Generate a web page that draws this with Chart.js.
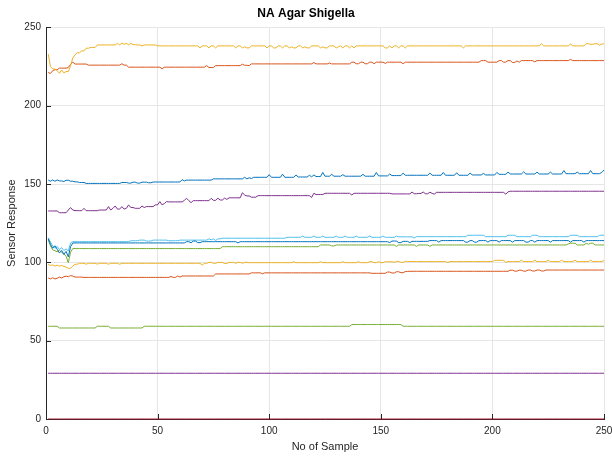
<!DOCTYPE html>
<html>
<head>
<meta charset="utf-8">
<title>NA Agar Shigella</title>
<script src="https://cdn.jsdelivr.net/npm/chart.js@4.4.1/dist/chart.umd.min.js"></script>
<style>
  html, body { margin: 0; padding: 0; background: #fff; }
  canvas { display: block; }
</style>
</head>
<body>
<canvas id="sensorChart" width="612" height="457"></canvas>
<script>
const sampleCount = 250;
const xTicks = [0, 50, 100, 150, 200, 250];
const yTicks = [0, 50, 100, 150, 200, 250];
// default MATLAB colour order, reused after the seventh line
const lineColors = ['#0072BD', '#D95319', '#EDB120', '#7E2F8E', '#77AC30', '#4DBEEE', '#A2142F'];

// Each sensor is a list of [sample, reading] change points;
// a reading holds until the next listed sample.
const sensor1 = [[1,152.6],[2,151.8],[3,152.6],[4,151.8],[5,152.6],[6,152],[8,151.6],[9,152.4],[11,151.8],[13,151.4],[15,151],[18,150.4],[34,151],[37,150.6],[39,151.2],[41,150.6],[43,151.2],[46,150.8],[48,151.3],[61,152.8],[62,152],[63,152.5],[75,153.3],[89,154.3],[90,153.3],[91,154],[92,153.5],[93,154.3],[100,156],[101,154.3],[106,156.3],[107,154.3],[112,155.8],[113,154.5],[118,155.6],[119,154.6],[120,155.8],[121,154.8],[124,157.4],[125,155],[128,156.2],[129,155],[133,156],[134,155],[142,156.2],[143,155],[148,157.4],[149,155.2],[154,156.4],[155,155.4],[160,157],[161,155.6],[172,157],[173,155.6],[178,157.4],[179,155.6],[184,157.2],[185,155.6],[190,157],[191,155.8],[196,156.8],[197,155.8],[202,157.4],[203,156.2],[207,157.6],[208,156.4],[214,157.8],[215,156.4],[220,157.6],[221,156.4],[226,157.6],[227,156.4],[232,158.6],[233,156.6],[238,157.6],[239,156.6],[244,158.6],[245,156.6],[249,157.4],[250,159]];
const sensor2 = [[1,221.2],[2,220.6],[3,222.4],[4,223],[6,224],[10,224.4],[11,226.4],[12,227.8],[13,226.6],[19,225.9],[34,226.8],[35,225.9],[37,224.6],[52,223.6],[53,224.6],[72,225.6],[73,224.4],[76,225.6],[88,226.5],[89,225.8],[91,225.6],[92,226.7],[120,227.6],[121,226.7],[127,227.3],[128,226.7],[137,227.8],[139,226.8],[141,227.8],[143,226.8],[145,227.8],[147,226.8],[148,227.8],[152,227],[153,227.8],[160,226.8],[161,227.8],[195,228.8],[198,227.8],[203,228.8],[205,227.8],[207,228.8],[209,227.6],[211,228.6],[212,227.8],[213,228.8],[219,228],[220,228.8],[235,229.6],[236,228.8]];
const sensor3 = [[1,233],[2,225],[3,223.5],[5,222.5],[6,220.7],[7,222.8],[8,221],[9,221.8],[11,225.5],[12,230.5],[13,232.5],[14,233.8],[16,235],[18,236.7],[20,237.2],[23,238.8],[32,239.8],[33,238.8],[34,240],[35,239.2],[36,239.8],[37,238.8],[38,239.8],[39,239],[41,238.8],[43,238.2],[44,238.8],[50,238.2],[69,236.9],[70,238.2],[73,236.9],[74,238.2],[76,236.9],[77,238.2],[85,236.9],[86,238.2],[88,236.9],[89,237.6],[90,236.9],[92,238.2],[99,236.9],[100,238.2],[102,236.9],[104,238.2],[106,236.9],[107,238.2],[109,236.9],[110,237.6],[111,236.9],[113,238.2],[115,236.9],[116,237.6],[117,236.9],[119,238.2],[123,236.9],[124,237.6],[125,236.9],[127,238.2],[130,236.9],[131,237.6],[132,238.2],[133,236.9],[134,238.2],[136,236.9],[137,238.2],[138,236.9],[139,238.2],[152,236.9],[154,238.2],[155,236.9],[156,238.2],[158,236.9],[159,238.2],[161,236.9],[162,238.2],[187,236.9],[188,238.2],[222,239.6],[223,238.2],[235,239.4],[236,238.2],[242,239.6],[244,239.2],[246,239.6],[248,238.6],[249,239.4]];
const sensor4 = [[1,132.8],[6,131.7],[10,133.4],[11,135],[12,133.4],[13,133],[17,134.5],[18,133],[24,133.4],[28,135.6],[29,133.4],[30,134.5],[31,136],[32,134],[34,135.6],[35,134],[36,134.5],[37,136.7],[38,135],[40,134.5],[43,136],[44,135],[45,135.6],[49,136.7],[51,138.8],[52,136.7],[53,137.5],[54,138.8],[55,138.6],[62,139.6],[63,140.9],[64,139.4],[65,138.1],[66,139.4],[74,140.9],[75,139.6],[77,141],[78,139.8],[80,141],[81,140.2],[82,141.2],[88,144.4],[89,143],[90,142.4],[92,141.6],[95,142.6],[119,141.4],[120,144.1],[121,143.3],[125,144.1],[137,143],[138,144.1],[155,143.7],[164,144.9],[165,143.8],[167,144],[169,144.9],[170,143.8],[172,144.8],[173,144],[174,143.6],[175,144.7],[206,143.5],[207,145],[208,145.4]];
const sensor5 = [[1,114.5],[2,110.5],[3,108],[4,107.4],[5,106.8],[6,107.8],[7,106.4],[8,105.6],[9,103.8],[10,99.8],[11,106.5],[12,108.8],[79,110],[123,111.1],[128,110.5],[130,111.1],[157,110.2],[158,111.1],[166,110.2],[167,111.1],[172,110.2],[173,111.1],[234,111.8],[235,112.2],[238,111.1],[242,112.2],[243,111.6],[244,112.2],[246,111.1]];
const sensor6 = [[1,115.6],[2,113],[3,110.5],[4,109],[5,110.2],[6,108.2],[7,109.4],[8,107.6],[9,108.6],[10,107.2],[11,112.4],[12,113.2],[38,113.8],[42,114.2],[45,113.6],[48,114.2],[55,113.8],[60,114.2],[73,115],[74,114.4],[75,115],[76,114],[77,115],[79,115.4],[108,116],[115,116.8],[116,116],[120,116.8],[121,116],[124,116.8],[125,116],[130,116.8],[131,116],[134,116.8],[135,116],[139,116.8],[140,116],[145,116.8],[146,116],[151,116.8],[152,116],[157,116.8],[158,116.3],[165,115.6],[166,116.4],[189,117.3],[197,116.4],[207,117.3],[211,116.4],[218,117.3],[221,116.4],[235,117.3],[239,116.4],[248,117.3]];
const sensor7 = [[1,0]];
const sensor8 = [[1,115.2],[2,111.5],[3,109],[4,110.6],[5,108.4],[6,106],[7,107.6],[8,105],[9,107],[10,103.5],[11,110],[12,112.4],[63,113.2],[65,112.5],[66,113.6],[68,112.6],[70,113.2],[86,112.4],[87,113.2],[154,112.6],[155,113.6],[158,112.6],[160,113.4],[163,112.6],[164,113.4],[172,113.9],[176,112.9],[177,113.9],[188,112.9],[190,113.9],[192,112.9],[194,113.9],[198,112.9],[199,113.9],[203,112.9],[204,113.9],[209,112.9],[210,113.9],[215,112.9],[217,113.9],[219,112.9],[220,113.9],[226,112.9],[227,113.9],[235,112.9],[236,113.9],[241,112.9],[242,113.9]];
const sensor9 = [[1,90],[2,89.4],[3,90.2],[4,89.4],[5,89.8],[6,90.6],[7,90],[8,90.8],[9,91.2],[10,90.8],[11,91.6],[12,91.2],[13,90.6],[17,90.4],[56,91],[57,90.4],[59,91.3],[60,90.6],[61,91.3],[76,92.6],[92,93.3],[97,92.7],[98,93.3],[146,93],[153,93.8],[155,93.2],[157,94],[159,93.4],[161,94.2],[163,94.3],[208,95],[210,94.4],[212,95],[214,94.4],[216,95.1],[218,94.5],[220,95.1],[222,94.5],[224,95.1]];
const sensor10 = [[1,98.8],[2,98],[3,98.4],[4,97.6],[5,98.2],[6,97.6],[7,98],[8,97.4],[9,97],[10,96.2],[12,97.6],[13,98.8],[15,99.4],[18,98.8],[19,99.4],[23,98.9],[24,99.4],[28,98.8],[29,99.4],[33,98.8],[34,99.4],[70,98.3],[71,99.4],[73,100],[75,99.4],[77,100],[80,99.3],[82,100],[85,99.4],[86,100],[88,99.4],[89,100],[91,99.8],[111,100.4],[112,99.8],[123,100.4],[124,99.8],[133,100.4],[134,99.8],[140,100.4],[141,99.8],[145,100.4],[147,99.8],[149,100.4],[150,99.8],[152,100.4],[156,100],[157,100.6],[159,100],[161,100.6],[163,100.5],[180,99.8],[181,100.5],[201,101.3],[206,100],[207,100.5],[213,101.4],[214,100.5],[219,101.4],[220,100.5],[225,101.4],[226,100.5],[231,101.4],[232,100.5],[237,101.4],[238,100.5],[244,101.4],[245,100.5],[250,101.2]];
const sensor11 = [[1,29.2]];
const sensor12 = [[1,59.2],[6,58.1],[23,59.2],[29,58.1],[44,59.2],[137,60.3],[160,59.2]];

const sensors = [sensor1, sensor2, sensor3, sensor4, sensor5, sensor6,
                 sensor7, sensor8, sensor9, sensor10, sensor11, sensor12];

function expand(steps) {
  const out = [];
  for (let i = 0; i < steps.length; i++) {
    const end = i + 1 < steps.length ? steps[i + 1][0] : sampleCount + 1;
    for (let s = steps[i][0]; s < end; s++) out.push({ x: s, y: steps[i][1] });
  }
  return out;
}

const fontFamily = '"Liberation Sans", Arial, Helvetica, sans-serif';
const axisColor = '#262626';

// MATLAB-style tick marks pointing into the plot
const innerTicks = {
  id: 'innerTicks',
  afterDatasetsDraw(chart) {
    const { ctx, chartArea: a, scales: { x, y } } = chart;
    ctx.save();
    ctx.strokeStyle = axisColor;
    ctx.lineWidth = 1;
    ctx.beginPath();
    xTicks.forEach(v => {
      const px = Math.round(x.getPixelForValue(v)) + 0.5;
      ctx.moveTo(px, a.bottom);
      ctx.lineTo(px, a.bottom - 5);
    });
    yTicks.forEach(v => {
      const py = Math.round(y.getPixelForValue(v)) + 0.5;
      ctx.moveTo(a.left, py);
      ctx.lineTo(a.left + 5, py);
    });
    ctx.stroke();
    ctx.restore();
  }
};

new Chart(document.getElementById('sensorChart'), {
  type: 'line',
  data: {
    datasets: sensors.map((s, i) => ({
      data: expand(s),
      borderColor: lineColors[i % lineColors.length],
      borderWidth: 1,
      pointRadius: 0,
      tension: 0,
      fill: false,
      clip: 3,
      order: sensors.length - i
    }))
  },
  options: {
    responsive: false,
    animation: false,
    events: [],
    layout: { padding: { left: 0, right: 0, top: 0, bottom: 0 } },
    plugins: {
      legend: { display: false },
      tooltip: { enabled: false },
      title: {
        display: true,
        text: 'NA Agar Shigella',
        color: '#000',
        font: { family: fontFamily, size: 12, weight: 'bold' },
        padding: { top: 6, bottom: 7 }
      }
    },
    scales: {
      x: {
        type: 'linear',
        min: 0,
        max: 250,
        afterBuildTicks: s => { s.ticks = xTicks.map(v => ({ value: v })); },
        afterFit: s => {
          s.height = 38;
          s.paddingLeft = 0;
          s.paddingRight = 8;
        },
        ticks: { color: axisColor, font: { family: fontFamily, size: 10 }, padding: 6, maxRotation: 0, autoSkip: false },
        grid: { color: '#e6e6e6', drawTicks: false },
        border: { color: axisColor, width: 1 },
        title: {
          display: true,
          text: 'No of Sample',
          color: axisColor,
          font: { family: fontFamily, size: 11 },
          padding: { top: 0, bottom: 3.4 }
        }
      },
      y: {
        type: 'linear',
        min: 0,
        max: 250,
        afterBuildTicks: s => { s.ticks = yTicks.map(v => ({ value: v })); },
        afterFit: s => {
          s.width = 46;
          s.paddingTop = 0;
          s.paddingBottom = 0;
        },
        ticks: { color: axisColor, font: { family: fontFamily, size: 10 }, padding: 5, autoSkip: false },
        grid: { color: '#e6e6e6', drawTicks: false },
        border: { color: axisColor, width: 1 },
        title: {
          display: true,
          text: 'Sensor Response',
          color: axisColor,
          font: { family: fontFamily, size: 11 },
          padding: { top: 5.4, bottom: 0 }
        }
      }
    }
  },
  plugins: [innerTicks]
});
</script>
</body>
</html>
